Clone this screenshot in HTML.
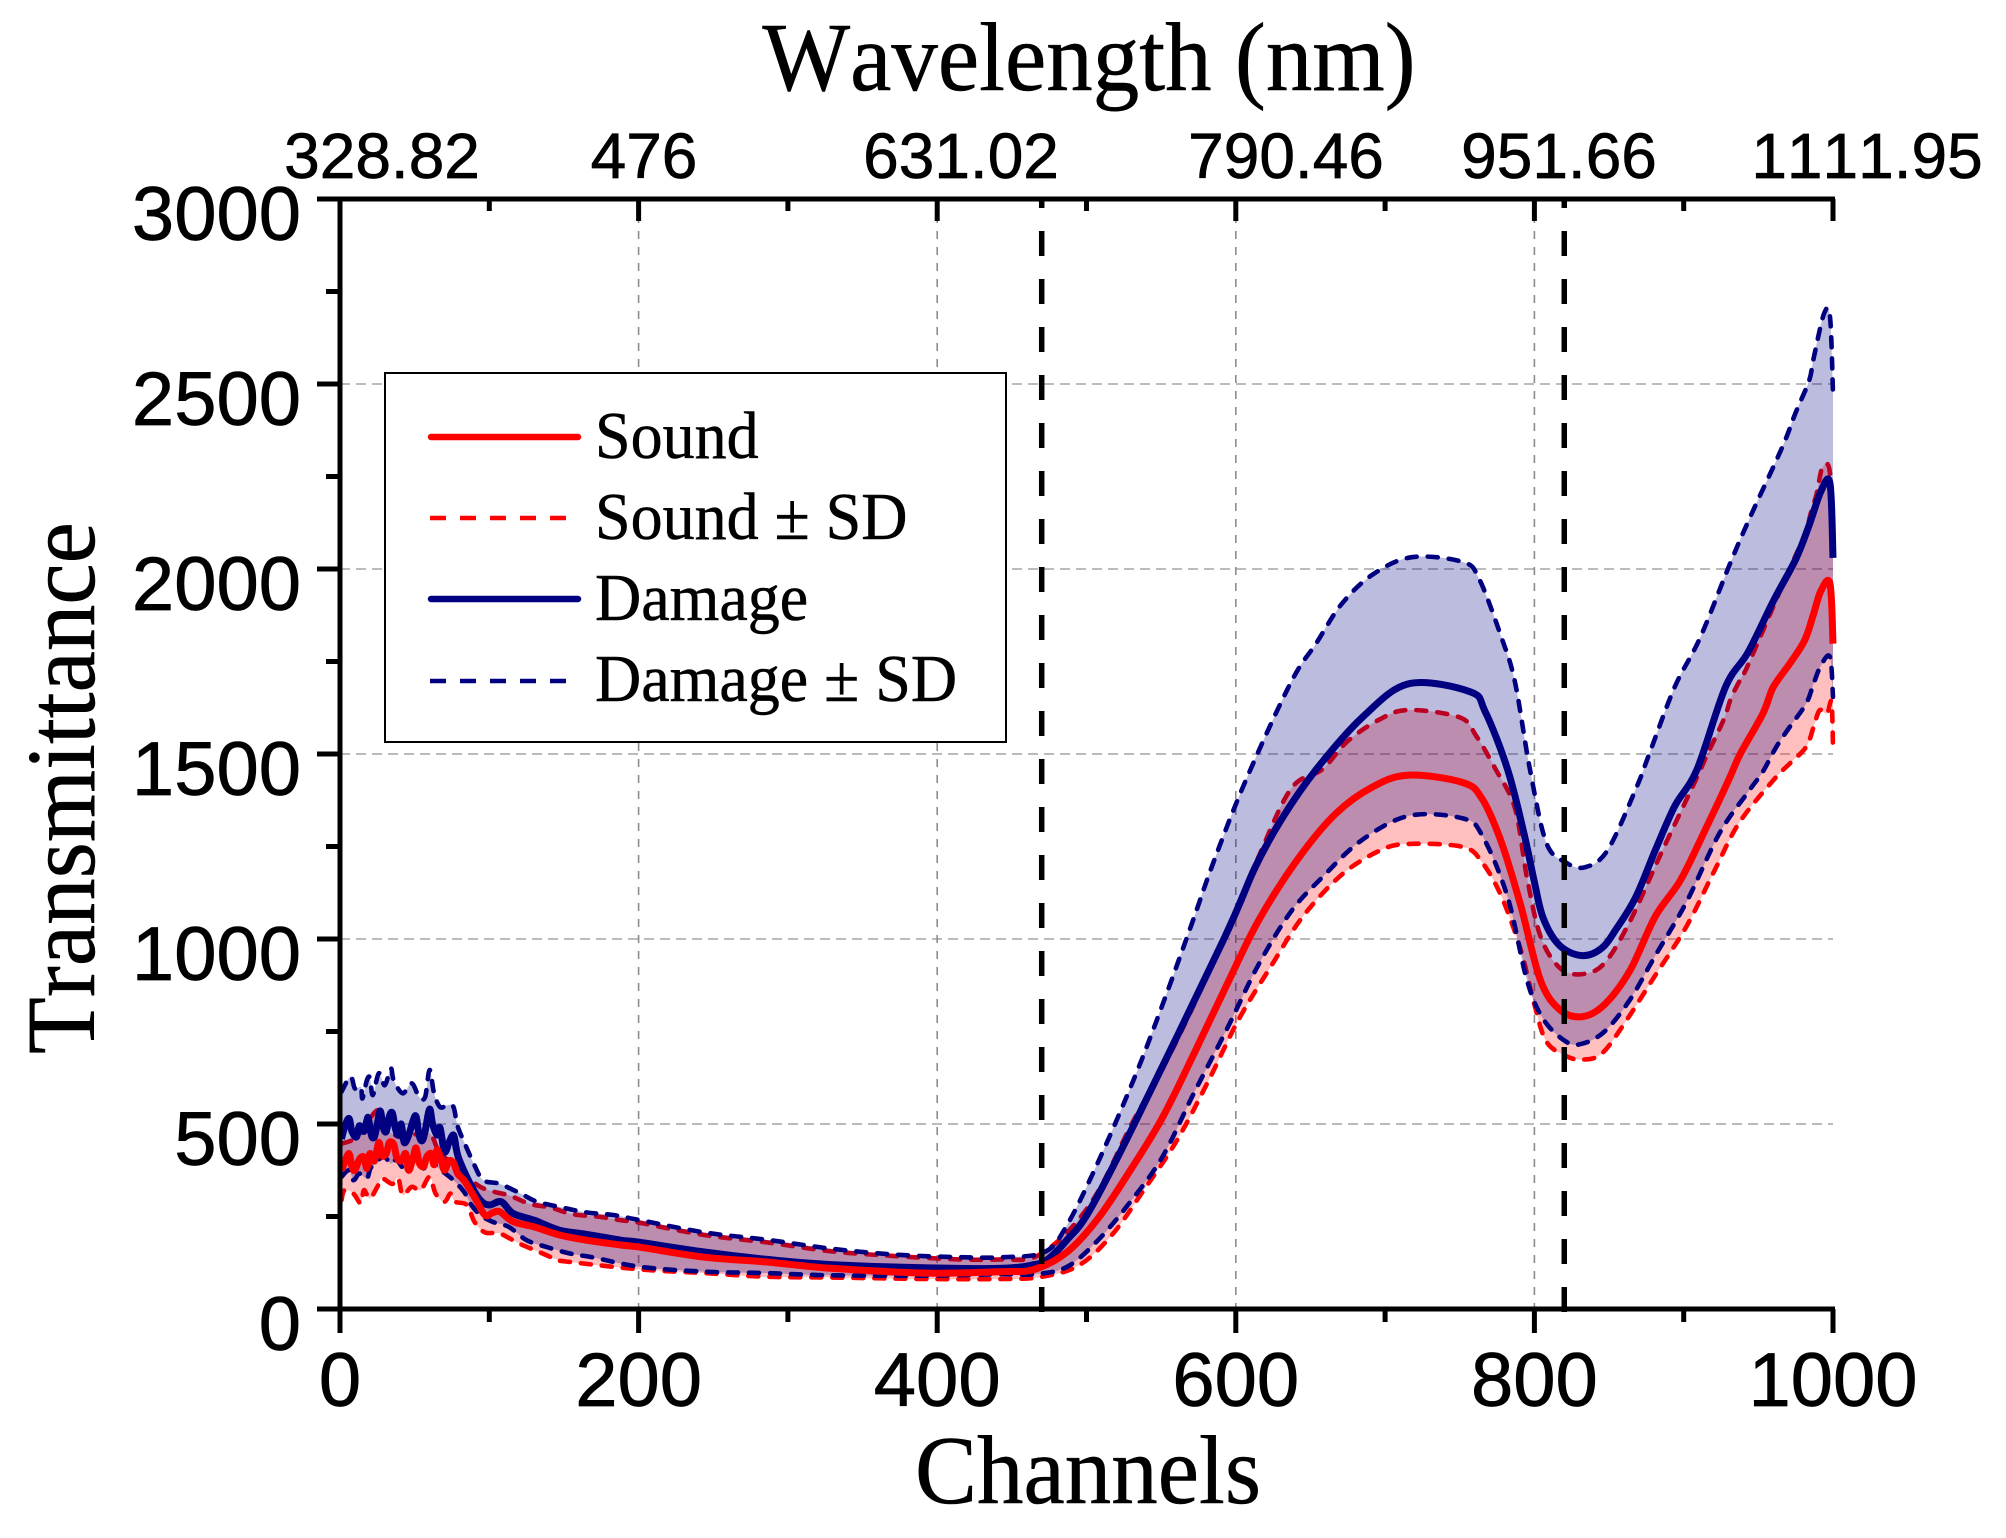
<!DOCTYPE html>
<html lang="en">
<head>
<meta charset="utf-8">
<title>Transmittance vs Channels</title>
<style>
html,body{margin:0;padding:0;background:#fff;width:2006px;height:1538px;overflow:hidden}
svg{display:block}
text{font-kerning:none}
.serif{font-family:"Liberation Serif",serif;fill:#000;stroke:#000;stroke-width:.5px}
.sans{font-family:"Liberation Sans",sans-serif;fill:#000;stroke:#000;stroke-width:.7px}
</style>
</head>
<body>
<svg id="chart" xmlns="http://www.w3.org/2000/svg" width="2006" height="1538" viewBox="0 0 2006 1538">
  <rect x="0" y="0" width="2006" height="1538" fill="#fff"/>
  <g id="grid"></g>
  <g id="series"></g>
  <g id="markers"></g>
  <g id="axes"></g>

  <text class="serif" transform="translate(1089,90) scale(1,1.05)" font-size="93" text-anchor="middle">Wavelength (nm)</text>
  <text class="serif" transform="translate(1088,1503) scale(1,1.05)" font-size="93" text-anchor="middle">Channels</text>
  <text class="serif" transform="translate(94,788) rotate(-90) scale(1,1.05)" font-size="93" text-anchor="middle">Transmittance</text>

  <g font-size="64" text-anchor="middle">
    <text class="sans" x="382" y="178">328.82</text>
    <text class="sans" x="644" y="178">476</text>
    <text class="sans" x="961" y="178">631.02</text>
    <text class="sans" x="1286" y="178">790.46</text>
    <text class="sans" x="1559" y="178">951.66</text>
    <text class="sans" x="1867" y="178">1111.95</text>
  </g>

  <g>
    <rect x="385" y="373" width="621" height="369" fill="#fff" stroke="#000" stroke-width="2"/>
    <line x1="431" x2="578" y1="437" y2="437" stroke="#ff0000" stroke-width="6.5" stroke-linecap="round"/>
    <text class="serif" transform="translate(595,458) scale(1,1.05)" font-size="64">Sound</text>
    <line x1="430" x2="579" y1="518" y2="518" stroke="#ff0000" stroke-width="4.5" stroke-dasharray="16 14"/>
    <text class="serif" transform="translate(595,539) scale(1,1.05)" font-size="64">Sound ± SD</text>
    <line x1="431" x2="578" y1="599" y2="599" stroke="#000080" stroke-width="6.5" stroke-linecap="round"/>
    <text class="serif" transform="translate(595,620) scale(1,1.05)" font-size="64">Damage</text>
    <line x1="430" x2="579" y1="681" y2="681" stroke="#000080" stroke-width="4.5" stroke-dasharray="16 14"/>
    <text class="serif" transform="translate(595,701) scale(1,1.05)" font-size="64">Damage ± SD</text>
  </g>
</svg>

<script>
// ---- tick data ----
const xMajorTicks = [0, 200, 400, 600, 800, 1000];
const xMinorTicks = [100, 300, 500, 700, 900];
const yMajorTicks = [0, 500, 1000, 1500, 2000, 2500, 3000];
const yMinorTicks = [250, 750, 1250, 1750, 2250, 2750];
const xGridValues = [200, 400, 600, 800];
const yGridValues = [500, 1000, 1500, 2000, 2500];
const bandChannels = [470, 820];

// ---- series data ----
const soundMeanCh = [1,3,6,8,10,13,16,18,20,23,26,28,31,33,36,38,41,44,46,49,51,53,56,58,61,63,65,68,70,73,76,79,83,90,97,102,107,116,130,147,165,188,201,244,286,329,394,444,465,487,508,530,551,572,594,615,641,667,692,716,752,765,778,791,804,817,832,847,864,881,898,915,930,938,953,960,971,981,987,992,998,1000];
const soundMeanVal = [375,395,420,385,375,405,410,380,420,400,450,415,420,450,445,410,400,420,375,410,435,395,385,410,420,390,430,400,375,400,395,365,348,303,254,260,263,236,222,200,186,173,167,140,127,110,97,101,107,154,246,379,518,690,876,1048,1213,1339,1412,1443,1423,1379,1260,1088,889,809,790,823,915,1061,1160,1300,1429,1501,1609,1681,1744,1807,1879,1942,1960,1798];

const soundUpperCh = [1,11,25,29,40,48,60,67,76,85,94,103,114,127,141,156,174,188,201,244,286,329,372,415,444,465,487,508,530,551,572,594,615,637,658,675,697,716,750,761,774,787,795,804,817,832,847,864,885,908,915,927,932,940,944,975,980,985,989,993,998,1000];
const soundUpperVal = [447,465,537,492,465,470,474,420,393,357,330,317,306,284,274,256,249,240,233,200,180,156,143,134,134,140,207,319,498,650,823,1021,1220,1406,1459,1535,1595,1619,1599,1549,1459,1353,1167,1008,922,905,935,1048,1233,1429,1492,1595,1654,1717,1749,2037,2068,2149,2203,2275,2259,2040];

const soundLowerCh = [1,3,9,14,16,20,25,28,35,39,42,48,54,60,64,70,74,77,85,90,97,107,120,134,145,152,201,244,286,329,394,444,470,495,517,538,560,581,602,624,645,671,697,716,752,765,778,791,800,808,821,832,845,860,881,902,920,937,960,971,982,987,991,996,999,1000];
const soundLowerVal = [294,321,312,285,321,299,330,353,338,353,308,330,321,357,312,290,312,290,281,236,207,204,177,153,134,128,107,97,87,85,81,81,87,118,200,319,452,611,783,929,1061,1174,1240,1257,1249,1207,1114,968,823,723,684,674,690,770,902,1035,1180,1313,1429,1474,1519,1573,1618,1609,1640,1510];

const damageMeanCh = [1,3,6,8,11,13,16,18,19,21,23,25,27,29,31,33,35,37,39,41,43,46,49,51,53,55,57,60,62,65,67,70,73,76,78,80,87,94,100,108,116,130,147,165,188,201,244,286,329,394,444,465,474,487,502,532,592,613,631,654,685,716,757,767,782,793,800,806,817,832,845,855,868,881,894,909,928,943,960,975,984,992,998,1000];
const damageMeanVal = [460,490,515,480,465,495,480,510,515,470,465,500,535,490,480,520,530,490,470,500,450,470,510,520,470,455,480,540,500,470,490,425,450,470,430,402,340,294,281,290,258,240,213,202,186,180,154,134,120,111,110,120,134,187,266,500,1000,1194,1326,1459,1600,1690,1668,1615,1459,1286,1154,1055,982,955,975,1028,1114,1240,1359,1459,1681,1774,1913,2026,2118,2211,2231,2030];

const damageUpperCh = [1,7,10,14,15,18,20,22,26,30,34,36,42,48,53,57,60,63,67,72,76,79,86,90,96,107,121,132,147,165,183,201,244,286,329,372,415,444,472,487,508,532,551,570,585,607,637,654,671,692,718,752,763,778,787,797,808,821,834,849,868,877,894,911,931,945,966,975,984,987,994,998,1000];
const damageUpperVal = [587,628,596,600,569,618,625,578,637,605,650,618,583,610,573,573,646,583,546,551,546,492,425,389,348,338,312,290,276,261,254,240,207,187,163,147,140,140,154,227,399,624,823,1035,1207,1432,1694,1800,1906,1986,2032,2019,1973,1814,1694,1459,1260,1207,1194,1240,1406,1501,1681,1814,2014,2145,2329,2423,2509,2569,2690,2681,2476];

const damageLowerCh = [1,6,9,13,18,21,29,34,38,45,51,56,60,65,69,76,83,88,94,102,113,125,138,154,170,201,244,286,329,394,444,465,487,508,530,551,572,594,615,637,658,684,716,752,765,782,795,806,821,832,847,864,881,902,924,944,953,962,971,982,987,992,998,1000];
const damageLowerVal = [357,375,348,366,353,384,411,393,402,371,411,380,411,384,371,348,317,281,254,236,222,186,168,150,139,114,101,97,91,90,94,94,114,187,293,412,584,756,929,1074,1167,1266,1333,1326,1280,1114,889,783,723,717,750,836,955,1101,1286,1402,1452,1519,1573,1636,1690,1740,1762,1654];

// ---- axis functions ----
const PLOT_LEFT = 340, PLOT_RIGHT = 1833, PLOT_TOP = 199, PLOT_BOTTOM = 1309;
const X_MAX = 1000, Y_MAX = 3000;
function xScale(ch){ return PLOT_LEFT + ch / X_MAX * (PLOT_RIGHT - PLOT_LEFT); }
function yScale(v){ return PLOT_BOTTOM - v / Y_MAX * (PLOT_BOTTOM - PLOT_TOP); }

const NS = 'http://www.w3.org/2000/svg';
function make(tag, attrs, parent){
  const el = document.createElementNS(NS, tag);
  for (const k in attrs) el.setAttribute(k, attrs[k]);
  parent.appendChild(el);
  return el;
}
function toPoints(chs, vals){
  return chs.map(function(c,i){ return [xScale(c), yScale(vals[i])]; });
}
// smooth segments through every point (Catmull-Rom to cubic Bezier)
function smoothSegments(p){
  let s = '';
  for (let i = 0; i < p.length - 1; i++){
    const a = p[Math.max(0,i-1)], b = p[i], c = p[i+1], d = p[Math.min(p.length-1,i+2)];
    const c1x = b[0] + (c[0]-a[0])/6, c1y = b[1] + (c[1]-a[1])/6;
    const c2x = c[0] - (d[0]-b[0])/6, c2y = c[1] - (d[1]-b[1])/6;
    s += ' C' + c1x.toFixed(1) + ' ' + c1y.toFixed(1) + ' ' + c2x.toFixed(1) + ' ' + c2y.toFixed(1) + ' ' + c[0].toFixed(1) + ' ' + c[1].toFixed(1);
  }
  return s;
}
function pathOf(chs, vals){
  const p = toPoints(chs, vals);
  return 'M' + p[0][0].toFixed(1) + ' ' + p[0][1].toFixed(1) + smoothSegments(p);
}
function bandOf(chU, valU, chL, valL){
  const up = toPoints(chU, valU);
  const lo = toPoints(chL, valL).reverse();
  return 'M' + up[0][0].toFixed(1) + ' ' + up[0][1].toFixed(1) + smoothSegments(up) +
         ' L' + lo[0][0].toFixed(1) + ' ' + lo[0][1].toFixed(1) + smoothSegments(lo) + ' Z';
}

// ---- grid ----
const gridG = document.getElementById('grid');
yGridValues.forEach(function(v){
  const l = make('line',{x1:PLOT_LEFT,x2:PLOT_RIGHT,y1:yScale(v),y2:yScale(v),stroke:'#bbbbbb','stroke-width':2,'stroke-dasharray':'10 6'},gridG);
  
  
});
xGridValues.forEach(function(c){
  const l = make('line',{x1:xScale(c),x2:xScale(c),y1:PLOT_TOP,y2:PLOT_BOTTOM,stroke:'#8c8c8c','stroke-width':1.6,'stroke-dasharray':'8 8'},gridG);
  
  
});

// ---- series ----
const seriesG = document.getElementById('series');
const SD_DASH = '10 11';
const SD_WIDTH = 4.6;
const MEAN_WIDTH = 7;

const soundBand = make('path',{d:bandOf(soundUpperCh,soundUpperVal,soundLowerCh,soundLowerVal),fill:'#ff0000','fill-opacity':0.25,stroke:'none'},seriesG);



const soundUpper = make('path',{d:pathOf(soundUpperCh,soundUpperVal),fill:'none',stroke:'#ff0000','stroke-width':SD_WIDTH,'stroke-dasharray':SD_DASH,'stroke-linecap':'round','stroke-linejoin':'round'},seriesG);



const soundLower = make('path',{d:pathOf(soundLowerCh,soundLowerVal),fill:'none',stroke:'#ff0000','stroke-width':SD_WIDTH,'stroke-dasharray':SD_DASH,'stroke-linecap':'round','stroke-linejoin':'round'},seriesG);



const damageBand = make('path',{d:bandOf(damageUpperCh,damageUpperVal,damageLowerCh,damageLowerVal),fill:'#000080','fill-opacity':0.263,stroke:'none'},seriesG);



const damageUpper = make('path',{d:pathOf(damageUpperCh,damageUpperVal),fill:'none',stroke:'#000080','stroke-width':SD_WIDTH,'stroke-dasharray':SD_DASH,'stroke-linecap':'round','stroke-linejoin':'round'},seriesG);



const damageLower = make('path',{d:pathOf(damageLowerCh,damageLowerVal),fill:'none',stroke:'#000080','stroke-width':SD_WIDTH,'stroke-dasharray':SD_DASH,'stroke-linecap':'round','stroke-linejoin':'round'},seriesG);



const damageMean = make('path',{d:pathOf(damageMeanCh,damageMeanVal),fill:'none',stroke:'#000080','stroke-width':MEAN_WIDTH,'stroke-linejoin':'round'},seriesG);



const soundMean = make('path',{d:pathOf(soundMeanCh,soundMeanVal),fill:'none',stroke:'#ff0000','stroke-width':MEAN_WIDTH,'stroke-linejoin':'round'},seriesG);



// ---- vertical band markers ----
const markersG = document.getElementById('markers');
bandChannels.forEach(function(c){
  const l = make('line',{x1:xScale(c),x2:xScale(c),y1:PLOT_TOP-2,y2:PLOT_BOTTOM+3,stroke:'#000','stroke-width':5.5,'stroke-dasharray':'25 23','stroke-dashoffset':'14'},markersG);
  
  
});

// ---- axes ----
const axesG = document.getElementById('axes');
const AXW = 5;
function axisLine(x1,y1,x2,y2,name){
  const l = make('line',{x1:x1,y1:y1,x2:x2,y2:y2,stroke:'#000','stroke-width':AXW},axesG);
  
  
}
axisLine(PLOT_LEFT,PLOT_TOP-2,PLOT_LEFT,PLOT_BOTTOM+2,'left-axis-line');
axisLine(317,PLOT_BOTTOM,PLOT_RIGHT+2,PLOT_BOTTOM,'bottom-axis-line');
axisLine(317,PLOT_TOP,PLOT_RIGHT+2,PLOT_TOP,'top-axis-line');

yMajorTicks.forEach(function(v){
  axisLine(317,yScale(v),PLOT_LEFT,yScale(v),'y-major-tick');
  const t = make('text',{x:301,y:yScale(v)+41,'font-size':76,'text-anchor':'end','class':'sans'},axesG);
  t.textContent = String(v);
  
  
});
yMinorTicks.forEach(function(v){
  axisLine(326,yScale(v),PLOT_LEFT,yScale(v),'y-minor-tick');
});
xMajorTicks.forEach(function(c){
  axisLine(xScale(c),PLOT_BOTTOM,xScale(c),PLOT_BOTTOM+24,'x-major-tick');
  axisLine(xScale(c),PLOT_TOP,xScale(c),PLOT_TOP+22,'top-major-tick');
  const t = make('text',{x:xScale(c),y:1406,'font-size':76,'text-anchor':'middle','class':'sans'},axesG);
  t.textContent = String(c);
  
  
});
xMinorTicks.forEach(function(c){
  axisLine(xScale(c),PLOT_BOTTOM,xScale(c),PLOT_BOTTOM+13,'x-minor-tick');
  axisLine(xScale(c),PLOT_TOP,xScale(c),PLOT_TOP+12,'top-minor-tick');
});
</script>
</body>
</html>
